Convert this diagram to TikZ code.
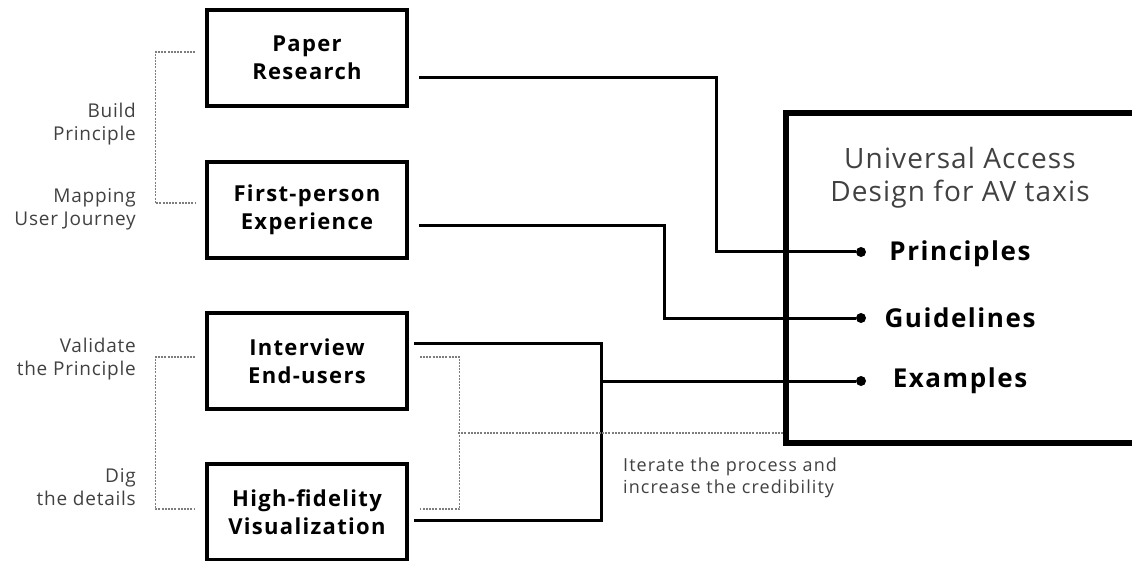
\documentclass[tikz,border=0pt]{standalone}
\usepackage{fontspec}
\setmainfont{Open Sans}
\newfontfamily\widefont[LetterSpace=6]{Open Sans}
\newfontfamily\notefont[LetterSpace=4]{Open Sans}
\usepackage{tikz}
\usetikzlibrary{calc,positioning}
\definecolor{inkgray}{RGB}{65,65,65}
\definecolor{dotgray}{RGB}{125,125,125}

\begin{document}
\begin{tikzpicture}[x=1pt,y=-1pt,
  stage/.style={draw,line width=3.6pt,minimum width=200pt,minimum height=96pt,align=center,font=\widefont\fontsize{22}{28}\selectfont\bfseries,inner sep=0pt},
  note/.style={align=right,anchor=east,font=\notefont\fontsize{19}{23}\selectfont,text=inkgray,inner sep=0pt},
  outcome/.style={font=\widefont\fontsize{26}{30}\selectfont\bfseries,inner sep=0pt},
  pin/.style={circle,fill,inner sep=0pt,minimum size=10pt},
  link/.style={line width=3pt},
  guide/.style={draw=dotgray,line width=1.2pt,dash pattern=on 2pt off 1.2pt}
]
\useasboundingbox (0,0) rectangle (1132,561);
\clip (0,0) rectangle (1132,561);
\node[stage] (pr) at (307,58) {Paper\\Research};
\node[stage] (fp) at (307,210) {First-person\\Experience};
\node[stage] (ie) at (307,361) {Interview\\End-users};
\node[stage] (hf) at (307,512) {High-fidelity\\Visualization};
\node[note] (n1) at (136,124) {Build\\Principle};
\node[note] (n2) at (136,209) {Mapping\\User Journey};
\node[note] (n3) at (136,359) {Validate\\the Principle};
\node[note] (n4) at (136,487) {Dig\\the details};
\node[draw,line width=6pt,minimum width=400pt,minimum height=330pt,anchor=north west,inner sep=0pt] (goal) at (783,110) {};
\node[font=\notefont\fontsize{28}{33}\selectfont,text=inkgray,align=center] (title) at (960,178) {Universal Access\\Design for AV taxis};
\node[pin] (dp) at (861,252) {};
\node[pin] (dg) at (861,318) {};
\node[pin] (de) at (861,381) {};
\node[outcome] (pri) at (960,254) {Principles};
\node[outcome] (gui) at (960,318) {Guidelines};
\node[outcome] (exa) at (960,381) {Examples};
\node[align=left,anchor=west,font=\widefont\fontsize{18}{22}\selectfont,text=inkgray,inner sep=0pt] (it) at (623,478) {Iterate the process and\\increase the credibility};
\coordinate (merge) at (601,381);
\coordinate (loop) at (458,433);
\draw[link] ([shift={(10,20)}]pr.east) -| (716,252) -- (dp);
\draw[link] ([shift={(10,16)}]fp.east) -| (664,318) -- (dg);
\draw[link] ([shift={(5,-18)}]ie.east) -| (merge) |- ([shift={(5,8)}]hf.east);
\draw[link] (merge) -- (de);
\draw[guide] ([shift={(-10,-6)}]pr.west) -- ++(-40,0) |- ([shift={(-10,-7)}]fp.west);
\draw[guide] ([shift={(-10,-4)}]ie.west) -- ++(-40,0) |- ([shift={(-10,-3)}]hf.west);
\draw[guide] ([shift={(11,-4)}]ie.east) -- ++(40,0) |- ([shift={(11,-3)}]hf.east);
\draw[guide] (loop) -- (goal.west |- loop);
\end{tikzpicture}
\end{document}
